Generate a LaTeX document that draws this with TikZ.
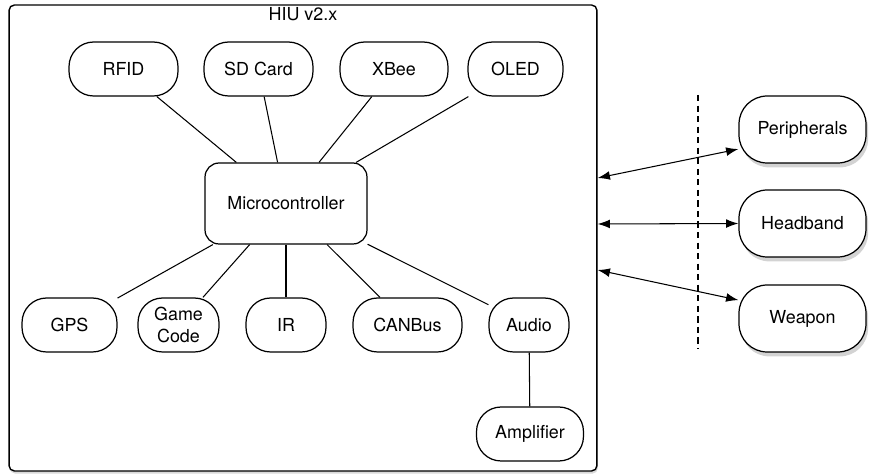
\documentclass[tikz,border=0pt]{standalone}
\usepackage{fontspec}
\setmainfont{TeX Gyre Heros}
\usepackage{tikz}
\usetikzlibrary{shapes,shadows,arrows.meta,calc}

\tikzset{
  part/.style={draw, line width=0.7pt, rounded corners=14pt, minimum height=1.08cm,
    align=center, font=\fontsize{10.2}{12}\selectfont, fill=white},
  ext/.style={part, rounded corners=16pt, minimum width=2.54cm, minimum height=1.34cm,
    drop shadow={shadow xshift=1.2pt, shadow yshift=-2.5pt, opacity=0.35}},
  wire/.style={line width=0.6pt},
  link/.style={line width=0.6pt, {Latex[length=7pt,width=5pt]}-{Latex[length=7pt,width=5pt]}}
}

\begin{document}
\begin{tikzpicture}[x=0.02cm,y=-0.02cm]
\useasboundingbox (0,0) rectangle (870,476);

\node[draw, line width=0.8pt, rounded corners=3pt, fill=white, minimum width=11.76cm, minimum height=9.32cm,
  drop shadow={shadow xshift=0.5pt, shadow yshift=-1.5pt, opacity=0.3}] (hiu) at (303,238) {};
\node[font=\fontsize{10.2}{12}\selectfont] (title) at (303,14) {HIU v2.x};

% top row
\node[part, minimum width=2.18cm] (rfid) at (123.5,69) {RFID};
\node[part, minimum width=2.18cm] (sd) at (258.5,69) {SD Card};
\node[part, minimum width=2.16cm] (xbee) at (394,69) {XBee};
\node[part, minimum width=1.9cm] (oled) at (515.5,69) {OLED};

\node[part, rounded corners=8pt, minimum width=3.24cm, minimum height=1.62cm] (mcu) at (286,203.5) {Microcontroller};

% bottom row
\node[part, minimum width=1.9cm] (gps) at (69.5,325) {GPS};
\node[part, minimum width=1.62cm] (game) at (178.5,325) {Game\\Code};
\node[part, minimum width=1.6cm] (ir) at (286,325) {IR};
\node[part, minimum width=2.18cm] (can) at (407.5,325) {CANBus};
\node[part, minimum width=1.6cm] (audio) at (529,325) {Audio};
\node[part, minimum width=2.14cm] (amp) at (530,434) {Amplifier};

\foreach \n in {rfid,sd,xbee,oled,gps,game,ir,can,audio}
  \draw[wire] (mcu) -- (\n);
\draw[wire] (audio) -- (amp);

% outside the unit
\node[ext] (per) at (802.5,129.5) {Peripherals};
\node[ext] (head) at (802.5,223.5) {Headband};
\node[ext] (weap) at (802.5,318.5) {Weapon};

\draw[line width=0.6pt, dash pattern=on 3.5pt off 2.5pt] (698,95) -- (698,349);

\coordinate (p1) at ($(hiu.east)+(0,-60)$);
\coordinate (p2) at ($(hiu.east)+(0,-14)$);
\coordinate (p3) at ($(hiu.east)+(0,32)$);
\draw[link] (p1) -- (per.197);
\draw[link] (p2) -- (head.west);
\draw[link] (p3) -- (weap.164);
\end{tikzpicture}
\end{document}
